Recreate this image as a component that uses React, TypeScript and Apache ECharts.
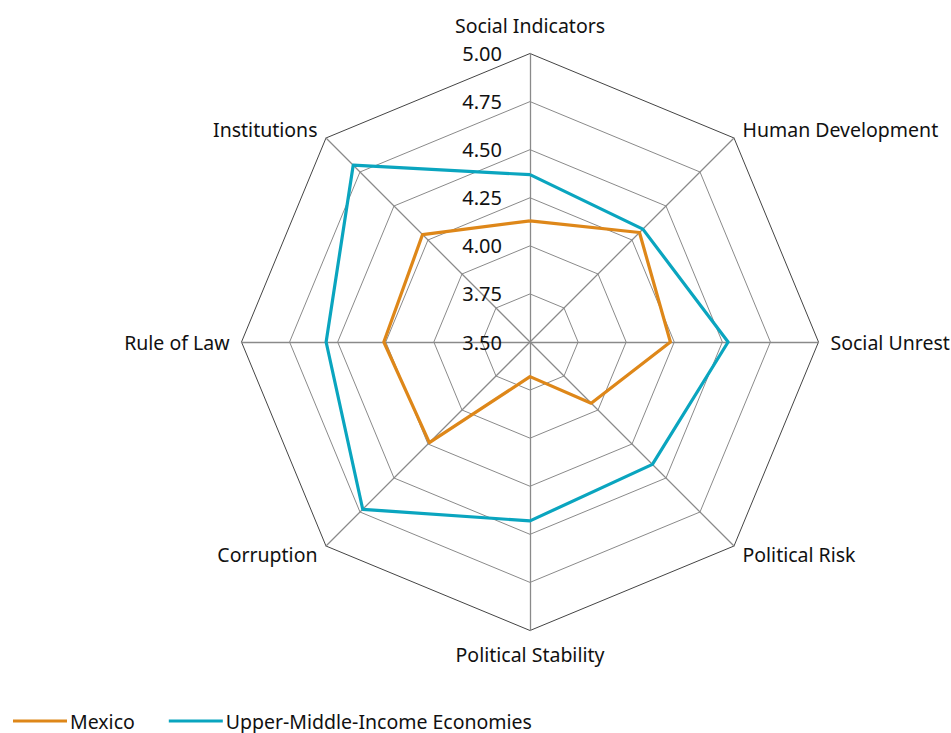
import React, { useEffect, useRef } from "react";
import * as echarts from "echarts";

// Indicators listed counter-clockwise from the top (ECharts radar order)
const indicatorNames = [
  "Social Indicators",
  "Institutions",
  "Rule of Law",
  "Corruption",
  "Political Stability",
  "Political Risk",
  "Social Unrest",
  "Human Development",
];

const seriesNames = ["Mexico", "Upper-Middle-Income Economies"];

const mexicoValues = [4.13, 4.29, 4.26, 4.24, 3.68, 3.95, 4.23, 4.305];
const upperMiddleValues = [4.37, 4.8, 4.56, 4.73, 4.43, 4.4, 4.53, 4.33];

const scaleMin = 3.5;
const scaleMax = 5.0;
const ringCount = 6;

const ORANGE = "#DE8719";
const TEAL = "#0AA5BF";
const FONT = "'Noto Sans', sans-serif";

export default function App() {
  const ref = useRef<HTMLDivElement>(null);

  useEffect(() => {
    if (!ref.current) return;
    const chart = echarts.init(ref.current, undefined, { renderer: "svg" });

    const indicator = indicatorNames.map((name, i) => ({
      name,
      min: scaleMin,
      max: scaleMax,
      nameGap: i === 0 ? 18 : i === 4 ? 14 : 12,
      // tick values are printed only along the top axis
      axisLabel: { show: i === 0 },
    }));

    const ringColors = Array.from({ length: ringCount + 1 }, (_, k) =>
      k === ringCount ? "#444444" : "#8a8a8a"
    );

    chart.setOption({
      animation: false,
      backgroundColor: "#ffffff",
      textStyle: { fontFamily: FONT },
      legend: {
        left: 8,
        top: 706,
        itemGap: 34,
        itemWidth: 54,
        itemHeight: 3,
        icon: "rect",
        textStyle: { fontSize: 19.5, color: "#111", fontFamily: FONT, padding: [0, 0, 0, -2] },
        data: seriesNames,
      },
      radar: {
        center: [530, 342],
        radius: 288.5,
        shape: "polygon",
        splitNumber: ringCount,
        startAngle: 90,
        nameGap: 12,
        axisName: { color: "#111", fontSize: 19.5, fontFamily: FONT },
        indicator,
        axisLine: { lineStyle: { color: "#8a8a8a", width: 1.3 } },
        splitLine: { lineStyle: { color: ringColors, width: 1 } },
        splitArea: { show: false },
        axisTick: { show: false },
        axisLabel: {
          show: false,
          color: "#111",
          fontSize: 20,
          fontFamily: FONT,
          margin: 28,
          formatter: (v: number) => v.toFixed(2),
        },
      },
      series: [
        {
          type: "radar",
          symbol: "none",
          data: [
            {
              name: seriesNames[0],
              value: mexicoValues,
              lineStyle: { color: ORANGE, width: 3.2 },
              itemStyle: { color: ORANGE },
            },
            {
              name: seriesNames[1],
              value: upperMiddleValues,
              lineStyle: { color: TEAL, width: 3.2 },
              itemStyle: { color: TEAL },
            },
          ],
        },
      ],
    });

    return () => chart.dispose();
  }, []);

  return (
    <div
      ref={ref}
      style={{ position: "absolute", left: 0, top: 0, width: 951, height: 733 }}
    />
  );
}
